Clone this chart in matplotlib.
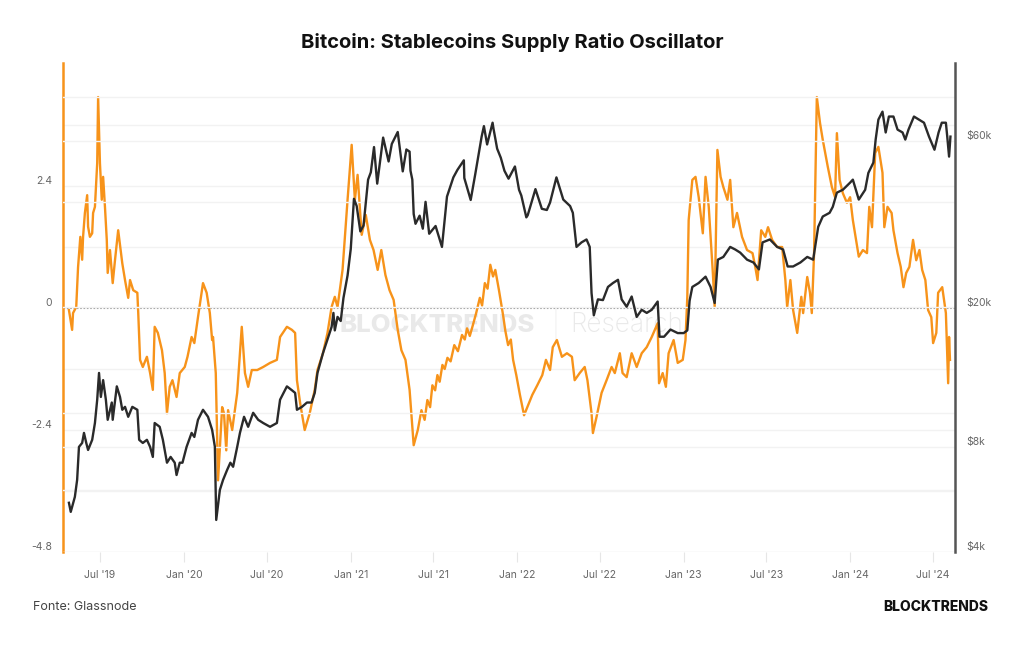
import matplotlib
matplotlib.use("Agg")
import matplotlib.pyplot as plt
from matplotlib.transforms import ScaledTranslation
import pandas as pd

TITLE = "Bitcoin: Stablecoins Supply Ratio Oscillator"

ssr_dates = [
    "2019-04-24", "2019-05-01", "2019-05-03", "2019-05-10", "2019-05-14", "2019-05-19", "2019-05-23", "2019-05-25",
    "2019-05-29", "2019-06-03", "2019-06-05", "2019-06-09", "2019-06-14", "2019-06-16", "2019-06-20", "2019-06-25",
    "2019-06-27", "2019-07-01", "2019-07-05", "2019-07-08", "2019-07-12", "2019-07-16", "2019-07-18", "2019-07-23",
    "2019-07-29", "2019-08-03", "2019-08-10", "2019-08-19", "2019-08-25", "2019-09-01", "2019-09-05", "2019-09-12",
    "2019-09-21", "2019-09-23", "2019-09-27", "2019-10-03", "2019-10-12", "2019-10-19", "2019-10-25", "2019-10-29",
    "2019-11-05", "2019-11-14", "2019-11-20", "2019-11-25", "2019-12-01", "2019-12-07", "2019-12-16", "2019-12-23",
    "2020-01-03", "2020-01-09", "2020-01-18", "2020-01-24", "2020-02-01", "2020-02-12", "2020-02-20", "2020-02-27",
    "2020-03-03", "2020-03-05", "2020-03-11", "2020-03-16", "2020-03-25", "2020-03-29", "2020-04-03", "2020-04-07",
    "2020-04-16", "2020-04-27", "2020-05-03", "2020-05-07", "2020-05-14", "2020-05-21", "2020-05-29", "2020-06-10",
    "2020-06-23", "2020-07-08", "2020-07-23", "2020-07-30", "2020-08-14", "2020-08-25", "2020-09-01", "2020-09-05",
    "2020-09-12", "2020-09-22", "2020-10-03", "2020-10-14", "2020-10-20", "2020-11-01", "2020-11-11", "2020-11-20",
    "2020-11-27", "2020-12-03", "2020-12-14", "2020-12-25", "2021-01-03", "2021-01-10", "2021-01-16", "2021-01-25",
    "2021-02-03", "2021-02-12", "2021-02-20", "2021-03-01", "2021-03-09", "2021-03-18", "2021-03-27", "2021-04-05",
    "2021-04-14", "2021-04-22", "2021-05-01", "2021-05-10", "2021-05-19", "2021-05-28", "2021-06-05", "2021-06-12",
    "2021-06-18", "2021-06-24", "2021-06-29", "2021-07-05", "2021-07-10", "2021-07-15", "2021-07-21", "2021-07-26",
    "2021-08-01", "2021-08-08", "2021-08-16", "2021-08-24", "2021-09-02", "2021-09-08", "2021-09-13", "2021-09-19",
    "2021-09-26", "2021-10-03", "2021-10-11", "2021-10-16", "2021-10-22", "2021-10-28", "2021-11-03", "2021-11-09",
    "2021-11-14", "2021-11-22", "2021-12-01", "2021-12-06", "2021-12-12", "2021-12-18", "2021-12-23",
    "2021-12-30", "2022-01-07", "2022-01-16", "2022-01-25", "2022-02-03", "2022-02-14", "2022-02-25", "2022-03-05",
    "2022-03-14", "2022-03-20", "2022-03-29", "2022-04-09", "2022-04-20", "2022-05-01", "2022-05-07", "2022-05-18",
    "2022-05-29", "2022-06-04", "2022-06-13", "2022-06-16", "2022-06-24", "2022-07-05", "2022-07-16", "2022-07-27",
    "2022-08-03", "2022-08-14", "2022-08-20", "2022-08-29", "2022-09-09", "2022-09-20", "2022-10-01", "2022-10-12",
    "2022-10-23", "2022-11-05", "2022-11-08", "2022-11-16", "2022-11-23", "2022-11-29", "2022-12-10", "2022-12-19",
    "2022-12-30", "2023-01-05", "2023-01-09", "2023-01-12", "2023-01-20", "2023-01-27", "2023-02-03", "2023-02-12",
    "2023-02-18", "2023-02-25", "2023-03-06", "2023-03-10", "2023-03-16", "2023-03-23", "2023-03-29", "2023-04-07",
    "2023-04-13", "2023-04-20", "2023-04-28", "2023-05-09", "2023-05-20", "2023-06-01", "2023-06-07", "2023-06-12",
    "2023-06-20", "2023-06-29", "2023-07-05", "2023-07-14", "2023-07-25", "2023-08-05", "2023-08-12", "2023-08-16",
    "2023-08-23", "2023-08-29", "2023-09-07", "2023-09-16", "2023-09-20", "2023-09-29", "2023-10-05", "2023-10-09",
    "2023-10-14", "2023-10-18", "2023-10-20", "2023-10-27", "2023-11-02", "2023-11-09", "2023-11-13", "2023-11-22",
    "2023-11-29", "2023-12-03", "2023-12-09", "2023-12-16", "2023-12-25", "2024-01-01", "2024-01-07", "2024-01-14",
    "2024-01-20", "2024-01-29", "2024-02-07", "2024-02-12", "2024-02-18", "2024-02-25", "2024-03-03", "2024-03-12",
    "2024-03-16", "2024-03-23", "2024-04-01", "2024-04-05", "2024-04-14", "2024-04-21", "2024-04-27", "2024-05-03",
    "2024-05-10", "2024-05-18", "2024-05-25", "2024-06-01", "2024-06-07", "2024-06-14", "2024-06-20", "2024-06-27",
    "2024-07-01", "2024-07-08", "2024-07-12", "2024-07-21", "2024-07-25", "2024-07-29", "2024-08-03", "2024-08-05",
    "2024-08-07",
]
ssr_values = [
    -0.04, -0.43, -0.10, 0.02, 0.80, 1.40, 0.95, 1.40,
    1.87, 2.22, 1.60, 1.40, 1.47, 1.87, 1.99, 2.85,
    4.15, 2.85, 2.13, 2.58, 1.99, 1.34, 0.69, 1.14,
    0.49, 0.94, 1.53, 0.88, 0.55, 0.20, 0.55, 0.35,
    0.30, -0.10, -1.02, -1.16, -0.96, -1.28, -1.61, -0.37,
    -0.49, -0.83, -1.28, -2.07, -1.55, -1.42, -1.75, -1.28,
    -1.16, -0.96, -0.57, -0.69, -0.18, 0.49, 0.30, -0.10,
    -0.63, -0.57, -1.28, -3.39, -1.95, -2.07, -2.80, -2.01,
    -2.40, -1.67, -0.89, -0.37, -1.28, -1.55, -1.22, -1.22,
    -1.16, -1.08, -1.02, -0.57, -0.37, -0.43, -0.49, -1.42,
    -1.87, -2.40, -2.07, -1.61, -1.22, -0.89, -0.49, 0.02,
    0.22, 0.02, 0.75, 2.13, 3.21, 2.13, 2.62, 1.44,
    1.83, 1.34, 1.14, 0.75, 1.14, 0.65, 0.35, 0.16,
    -0.43, -0.83, -1.02, -1.61, -2.70, -2.40, -2.01, -2.20,
    -1.81, -1.95, -1.52, -1.62, -1.32, -1.45, -1.12, -1.20,
    -0.98, -1.05, -0.73, -0.85, -0.53, -0.62, -0.40, -0.55,
    -0.33, -0.10, 0.20, 0.05, 0.49, 0.38, 0.85, 0.62,
    0.75, 0.35, -0.14, -0.45, -0.73, -0.62, -1.02,
    -1.32, -1.71, -2.11, -1.91, -1.71, -1.52, -1.32, -1.02,
    -1.22, -0.77, -0.63, -0.96, -0.89, -0.96, -1.42, -1.28,
    -1.16, -1.42, -2.07, -2.46, -2.14, -1.67, -1.42, -1.16,
    -1.28, -0.89, -1.28, -1.36, -0.89, -1.16, -0.89, -0.77,
    -0.57, -0.30, -1.48, -1.28, -1.55, -0.89, -0.63, -1.08,
    -1.02, -0.63, 0.22, 1.73, 2.52, 2.58, 2.18, 1.47,
    2.58, 1.99, 0.69, 0.02, 3.11, 2.58, 2.38, 2.13,
    2.52, 1.59, 1.87, 1.40, 1.14, 1.08, 0.81, 0.55,
    1.53, 1.40, 1.59, 1.34, 1.20, 1.20, 0.55, 0.02,
    0.55, -0.04, -0.49, 0.22, -0.10, 0.61, 0.30, -0.10,
    1.08, 3.17, 4.15, 3.64, 3.31, 2.97, 2.78, 2.38,
    2.18, 3.44, 2.52, 2.26, 2.07, 2.18, 1.73, 1.34,
    1.01, 1.14, 1.08, 1.99, 1.59, 3.05, 3.17, 2.66,
    1.59, 1.99, 1.87, 1.53, 1.08, 0.81, 0.41, 0.69,
    0.81, 1.34, 0.94, 1.14, 0.75, 0.55, -0.04, -0.18,
    -0.69, -0.49, 0.30, 0.41, 0.16, -0.10, -1.48, -0.57,
    -1.02,
]

btc_dates = [
    "2019-04-24", "2019-04-28", "2019-05-07", "2019-05-12", "2019-05-16", "2019-05-23", "2019-05-27", "2019-06-01",
    "2019-06-05", "2019-06-14", "2019-06-20", "2019-06-25", "2019-06-29", "2019-07-03", "2019-07-08", "2019-07-14",
    "2019-07-18", "2019-07-27", "2019-07-29", "2019-08-07", "2019-08-14", "2019-08-19", "2019-08-25", "2019-09-01",
    "2019-09-10", "2019-09-21", "2019-09-25", "2019-10-03", "2019-10-12", "2019-10-19", "2019-10-25", "2019-10-29",
    "2019-11-09", "2019-11-16", "2019-11-25", "2019-12-03", "2019-12-12", "2019-12-16", "2019-12-23", "2019-12-29",
    "2020-01-07", "2020-01-18", "2020-01-24", "2020-02-01", "2020-02-12", "2020-02-23", "2020-03-03", "2020-03-09",
    "2020-03-12", "2020-03-20", "2020-03-27", "2020-04-05", "2020-04-12", "2020-04-18", "2020-04-27", "2020-05-03",
    "2020-05-12", "2020-05-21", "2020-06-01", "2020-06-12", "2020-06-23", "2020-07-08", "2020-07-23", "2020-07-30",
    "2020-08-14", "2020-08-25", "2020-09-01", "2020-09-05", "2020-09-16", "2020-09-27", "2020-10-07", "2020-10-14",
    "2020-10-20", "2020-11-01", "2020-11-11", "2020-11-20", "2020-11-24", "2020-11-27", "2020-12-03", "2020-12-10",
    "2020-12-16", "2020-12-25", "2021-01-01", "2021-01-08", "2021-01-14", "2021-01-22", "2021-01-29", "2021-02-08",
    "2021-02-14", "2021-02-21", "2021-02-28", "2021-03-13", "2021-03-25", "2021-04-01", "2021-04-14", "2021-04-25",
    "2021-05-03", "2021-05-10", "2021-05-12", "2021-05-16", "2021-05-19", "2021-05-23", "2021-06-01", "2021-06-08",
    "2021-06-14", "2021-06-22", "2021-07-06", "2021-07-20", "2021-07-31", "2021-08-14", "2021-08-23", "2021-09-06",
    "2021-09-07", "2021-09-21", "2021-10-01", "2021-10-15", "2021-10-20", "2021-10-27", "2021-11-08", "2021-11-10",
    "2021-11-18", "2021-11-26", "2021-12-04", "2021-12-13", "2021-12-27", "2022-01-05", "2022-01-10", "2022-01-21",
    "2022-01-24", "2022-02-10", "2022-02-24", "2022-03-07", "2022-03-14", "2022-03-28", "2022-04-12", "2022-04-27",
    "2022-05-03", "2022-05-11", "2022-05-22", "2022-06-02", "2022-06-09", "2022-06-13", "2022-06-18", "2022-06-27",
    "2022-07-08", "2022-07-19", "2022-07-30", "2022-08-10", "2022-08-18", "2022-08-29", "2022-09-09", "2022-09-20",
    "2022-10-01", "2022-10-12", "2022-10-23", "2022-11-05", "2022-11-09", "2022-11-19", "2022-12-03", "2022-12-19",
    "2023-01-01", "2023-01-09", "2023-01-14", "2023-01-20", "2023-02-03", "2023-02-18", "2023-03-01", "2023-03-10",
    "2023-03-17", "2023-03-29", "2023-04-13", "2023-04-24", "2023-05-05", "2023-05-20", "2023-06-03", "2023-06-15",
    "2023-06-23", "2023-07-09", "2023-07-25", "2023-08-07", "2023-08-17", "2023-08-29", "2023-09-14", "2023-09-29",
    "2023-10-12", "2023-10-23", "2023-11-02", "2023-11-17", "2023-11-24", "2023-12-03", "2023-12-16", "2024-01-01",
    "2024-01-07", "2024-01-20", "2024-02-03", "2024-02-10", "2024-02-21", "2024-02-26", "2024-03-03", "2024-03-12",
    "2024-03-19", "2024-03-26", "2024-04-05", "2024-04-14", "2024-04-25", "2024-05-01", "2024-05-08", "2024-05-20",
    "2024-05-31", "2024-06-11", "2024-06-22", "2024-07-04", "2024-07-13", "2024-07-20", "2024-07-29", "2024-08-01",
    "2024-08-05", "2024-08-08",
]
btc_prices = [
    5530, 5210, 5750, 6430, 7990, 8200, 8760, 8200,
    7830, 8370, 9350, 10900, 13000, 11100, 12400, 10900,
    9550, 10700, 9550, 11900, 11100, 10200, 10400, 9740,
    10400, 10200, 8370, 8200, 8370, 7990, 7480, 9350,
    9120, 8370, 7200, 7480, 7200, 6640, 7200, 7200,
    7990, 8760, 8530, 9550, 10200, 9740, 8940, 8000,
    4940, 6020, 6430, 6870, 7200, 7010, 7990, 8760,
    9740, 9120, 10000, 9550, 9350, 9120, 9350, 10900,
    11900, 11600, 11400, 10200, 10400, 10700, 10700, 11400,
    13000, 14800, 16200, 17600, 19300, 17200, 18800, 18300,
    21300, 24700, 29400, 40900, 39000, 33000, 34300, 46400,
    48700, 57500, 45200, 61200, 52300, 58700, 63500, 49000,
    56600, 55800, 49200, 46400, 37000, 34700, 36600, 33600,
    40100, 32500, 34200, 29800, 41500, 47100, 49500, 52700,
    46900, 40600, 48100, 61600, 66000, 58500, 67500, 64900,
    56900, 53600, 49200, 46700, 50600, 43400, 41800, 36200,
    36700, 43600, 38300, 38000, 39900, 47100, 40700, 39000,
    37300, 29800, 30700, 31300, 29800, 22000, 19000, 21100,
    21000, 22900, 23500, 24000, 21100, 20100, 21500, 18800,
    19700, 19300, 19700, 20800, 16500, 16500, 17300, 16900,
    16900, 17200, 20900, 22900, 23500, 24500, 22900, 20600,
    27400, 27900, 29800, 29300, 28700, 27400, 26900, 25700,
    30700, 31300, 29800, 29300, 26200, 26200, 26900, 27900,
    27400, 34000, 36400, 37300, 38800, 42600, 43400, 45500,
    46400, 40700, 43400, 48500, 51900, 60400, 68900, 72600,
    63300, 70300, 70300, 64500, 63300, 60400, 64500, 70300,
    68900, 67500, 61600, 56500, 63300, 67500, 67500, 61600,
    54000, 61600,
]

left_ticks = [-4.8, -2.4, 0, 2.4]
left_tick_labels = ["-4.8", "-2.4", "0", "2.4"]
left_grid = [-4.8, -3.6, -2.4, -1.2, 1.2, 2.4, 3.6]
right_ticks = [4000, 8000, 20000, 60000]
right_tick_labels = ["$4k", "$8k", "$20k", "$60k"]
right_grid = [4000, 6000, 8000, 10000, 20000, 40000, 60000, 80000]
x_ticks = ["2019-07-01", "2020-01-01", "2020-07-01", "2021-01-01", "2021-07-01", "2022-01-01",
           "2022-07-01", "2023-01-01", "2023-07-01", "2024-01-01", "2024-07-01"]
x_tick_labels = ["Jul '19", "Jan '20", "Jul '20", "Jan '21", "Jul '21", "Jan '22",
                 "Jul '22", "Jan '23", "Jul '23", "Jan '24", "Jul '24"]

ORANGE = "#f7931a"
BLACK = "#2a2a2a"
GRID = "#f2f2f2"
TICK_TXT = "#666666"
WM = "#e9e9e9"

plt.rcParams["font.family"] = ["Inter", "DejaVu Sans"]

fig = plt.figure(figsize=(10.24, 6.45), dpi=100)
fig.patch.set_facecolor("white")
ax = fig.add_axes([63 / 1024, 1 - 552 / 645, (955 - 63) / 1024, (552 - 63) / 645])
ax2 = ax.twinx()
ax2.set_zorder(ax.get_zorder() + 1)
ax2.patch.set_visible(False)
ax.patch.set_facecolor("white")

sd = pd.to_datetime(ssr_dates)
bd = pd.to_datetime(btc_dates)

# Left axis (oscillator)
ax.set_ylim(-4.8, 4.82)
for g in left_grid:
    ax.axhline(g, color=GRID, lw=1.0, zorder=0.5)

# watermark behind lines
ax.text(437 / 1024, 1 - 325 / 645, "BLOCKTRENDS", transform=fig.transFigure, ha="center", va="center",
        fontsize=18.5, fontweight="heavy", color=WM, zorder=0.8)
ax.text(555 / 1024, 1 - 325 / 645, "|", transform=fig.transFigure, ha="center", va="center",
        fontsize=21, fontweight="ultralight", color=WM, zorder=0.8)
ax.text(627 / 1024, 1 - 325 / 645, "Research", transform=fig.transFigure, ha="center", va="center",
        fontsize=19, fontweight="light", color=WM, zorder=0.8)

ax.axhline(0, color="#9a9a9a", lw=0.8, ls=(0, (1.5, 1.5)), zorder=1)
ax.plot(sd, ssr_values, color=ORANGE, lw=1.7, zorder=3, solid_joinstyle="round")

# Right axis (price, log)
ax2.set_yscale("log")
ax2.set_ylim(4000, 100000)
for g in right_grid:
    ax2.axhline(g, color=GRID, lw=1.0, zorder=0)
ax2.plot(bd, btc_prices, color=BLACK, lw=1.7, zorder=4, solid_joinstyle="round")

ax.set_xlim(pd.Timestamp("2019-04-11"), pd.Timestamp("2024-08-18"))
ax.set_xticks(pd.to_datetime(x_ticks))
ax.set_xticklabels(x_tick_labels)

ax.set_yticks(left_ticks)
ax.set_yticklabels(left_tick_labels)
ax2.set_yticks(right_ticks)
ax2.set_yticklabels(right_tick_labels)
ax2.yaxis.set_minor_locator(matplotlib.ticker.NullLocator())

ax.tick_params(axis="x", length=7, width=0.8, color="#e6e6e6", labelsize=7.5, labelcolor=TICK_TXT, pad=6)
ax.tick_params(axis="y", length=0, labelsize=7.5, labelcolor=TICK_TXT, pad=8)
ax2.tick_params(axis="y", length=0, labelsize=7.5, labelcolor=TICK_TXT, pad=8)
ax2.tick_params(axis="x", length=0)

off = ScaledTranslation(0, 4 / 72, fig.dpi_scale_trans)
for lab in ax.get_yticklabels() + ax2.get_yticklabels():
    lab.set_transform(lab.get_transform() + off)

for a in (ax, ax2):
    a.spines["top"].set_visible(False)
    a.spines["bottom"].set_visible(False)
ax.spines["right"].set_visible(False)
ax2.spines["left"].set_visible(False)
ax.spines["left"].set_color(ORANGE)
ax.spines["left"].set_linewidth(1.8)
ax2.spines["right"].set_color("#555555")
ax2.spines["right"].set_linewidth(1.8)

fig.text(512 / 1024, 1 - 43 / 645, TITLE, ha="center", va="center", fontsize=14.5, fontweight="bold", color="#111111")
fig.text(33 / 1024, 1 - 607 / 645, "Fonte: Glassnode", ha="left", va="center", fontsize=9, color="#444444")
fig.text(988 / 1024, 1 - 607 / 645, "BLOCKTRENDS", ha="right", va="center", fontsize=10, fontweight="heavy", color="#111111")

fig.savefig("out.png", dpi=100, facecolor="white")
